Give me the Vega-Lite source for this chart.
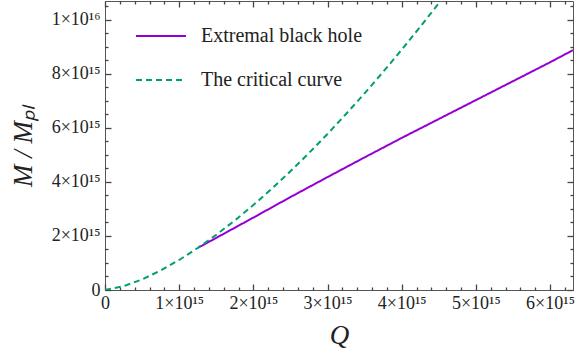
{
  "$schema": "https://vega.github.io/schema/vega-lite/v6.json",
  "autosize": "none",
  "width": 468,
  "height": 289,
  "padding": {"left": 105, "top": 1, "right": 8, "bottom": 72},
  "background": "white",
  "config": {
    "view": {"stroke": "#555", "strokeWidth": 1},
    "font": "Liberation Serif",
    "style": {
      "guide-label": {"font": "Liberation Serif"},
      "guide-title": {"font": "Liberation Serif"}
    },
    "axis": {
      "labelFont": "Liberation Serif",
      "titleFont": "Liberation Serif",
      "labelFontSize": 18,
      "labelColor": "#222",
      "titleColor": "#222",
      "tickColor": "#444",
      "tickWidth": 1.3,
      "domain": false,
      "grid": false,
      "zindex": 1
    },
    "legend": {"labelFont": "Liberation Serif", "labelLimit": 0}
  },
  "data": {
    "values": [
      {"series": "Extremal black hole", "Q": 1.257e15, "M": 1.567e15},
      {"series": "Extremal black hole", "Q": 1.5e15, "M": 1.93e15},
      {"series": "Extremal black hole", "Q": 2.0e15, "M": 2.68e15},
      {"series": "Extremal black hole", "Q": 2.5e15, "M": 3.44e15},
      {"series": "Extremal black hole", "Q": 3.0e15, "M": 4.18e15},
      {"series": "Extremal black hole", "Q": 3.5e15, "M": 4.91e15},
      {"series": "Extremal black hole", "Q": 4.0e15, "M": 5.63e15},
      {"series": "Extremal black hole", "Q": 4.5e15, "M": 6.33e15},
      {"series": "Extremal black hole", "Q": 5.0e15, "M": 7.03e15},
      {"series": "Extremal black hole", "Q": 5.5e15, "M": 7.73e15},
      {"series": "Extremal black hole", "Q": 6.0e15, "M": 8.43e15},
      {"series": "Extremal black hole", "Q": 6.31e15, "M": 8.88e15},
      {"series": "The critical curve", "Q": 0, "M": 0},
      {"series": "The critical curve", "Q": 0.25e15, "M": 0.139e15},
      {"series": "The critical curve", "Q": 0.5e15, "M": 0.393e15},
      {"series": "The critical curve", "Q": 0.75e15, "M": 0.722e15},
      {"series": "The critical curve", "Q": 1.0e15, "M": 1.112e15},
      {"series": "The critical curve", "Q": 1.25e15, "M": 1.554e15},
      {"series": "The critical curve", "Q": 1.5e15, "M": 2.043e15},
      {"series": "The critical curve", "Q": 1.75e15, "M": 2.574e15},
      {"series": "The critical curve", "Q": 2.0e15, "M": 3.145e15},
      {"series": "The critical curve", "Q": 2.25e15, "M": 3.753e15},
      {"series": "The critical curve", "Q": 2.5e15, "M": 4.396e15},
      {"series": "The critical curve", "Q": 2.75e15, "M": 5.071e15},
      {"series": "The critical curve", "Q": 3.0e15, "M": 5.778e15},
      {"series": "The critical curve", "Q": 3.25e15, "M": 6.515e15},
      {"series": "The critical curve", "Q": 3.5e15, "M": 7.281e15},
      {"series": "The critical curve", "Q": 3.75e15, "M": 8.075e15},
      {"series": "The critical curve", "Q": 4.0e15, "M": 8.896e15},
      {"series": "The critical curve", "Q": 4.25e15, "M": 9.743e15},
      {"series": "The critical curve", "Q": 4.5e15, "M": 10.615e15},
      {"series": "The critical curve", "Q": 4.6e15, "M": 10.971e15}
    ]
  },
  "layer": [
    {
      "mark": {"type": "line", "strokeWidth": 2, "clip": true},
      "encoding": {
        "x": {
          "field": "Q", "type": "quantitative",
          "scale": {"domain": [0, 6.31e15], "nice": false, "zero": false},
          "axis": {
            "orient": "bottom",
            "offset": -6,
            "values": [0, 1e15, 2e15, 3e15, 4e15, 5e15, 6e15],
            "labelFont": "Liberation Serif",
            "labelExpr": "datum.value == 0 ? '0' : round(datum.value / 1e15) + '×10¹⁵'",
            "tickSize": 6,
            "labelPadding": 4,
            "labelFlush": false,
            "labelOverlap": false,
            "title": "Q",
            "titleFont": "Liberation Serif",
            "titleFontSize": 27,
            "titleFontStyle": "italic",
            "titleFontWeight": "normal",
            "titlePadding": 10
          }
        },
        "y": {
          "field": "M", "type": "quantitative",
          "scale": {"domain": [0, 1.07e16], "nice": false, "zero": false},
          "axis": {
            "orient": "left",
            "offset": -6,
            "values": [0, 2e15, 4e15, 6e15, 8e15, 1e16],
            "labelFont": "Liberation Serif",
            "labelExpr": "datum.value == 0 ? '0' : (datum.value >= 1e16 ? round(datum.value / 1e16) + '×10¹⁶' : round(datum.value / 1e15) + '×10¹⁵')",
            "tickSize": 6,
            "labelPadding": 5,
            "labelFlush": false,
            "labelOverlap": false,
            "title": "M / Mₚₗ",
            "titleFont": "Liberation Serif",
            "titleFontSize": 27,
            "titleFontStyle": "italic",
            "titleFontWeight": "normal",
            "titlePadding": 14
          }
        },
        "color": {
          "field": "series", "type": "nominal",
          "scale": {"domain": ["Extremal black hole", "The critical curve"], "range": ["#9400D3", "#009E73"]},
          "legend": {
            "title": null,
            "orient": "none",
            "legendX": 30,
            "legendY": 9,
            "symbolType": "stroke",
            "symbolSize": 2500,
            "symbolStrokeWidth": 2,
            "labelFont": "Liberation Serif",
            "labelFontSize": 20,
            "labelColor": "#222",
            "labelOffset": 14,
            "rowPadding": 8
          }
        },
        "strokeDash": {
          "field": "series", "type": "nominal",
          "scale": {"domain": ["Extremal black hole", "The critical curve"], "range": [[1, 0], [6, 4]]},
          "legend": {
            "title": null,
            "orient": "none",
            "legendX": 30,
            "legendY": 9,
            "symbolType": "stroke",
            "symbolSize": 2500,
            "symbolStrokeWidth": 2,
            "labelFont": "Liberation Serif",
            "labelFontSize": 20,
            "labelColor": "#222",
            "labelOffset": 14,
            "rowPadding": 8
          }
        }
      }
    },
    {
      "mark": {"type": "line", "opacity": 0},
      "encoding": {
        "x": {
          "field": "Q", "type": "quantitative",
          "axis": {
            "orient": "bottom", "offset": -3,
            "values": [2e14, 4e14, 6e14, 8e14, 1.2e15, 1.4e15, 1.6e15, 1.8e15, 2.2e15, 2.4e15, 2.6e15, 2.8e15, 3.2e15, 3.4e15, 3.6e15, 3.8e15, 4.2e15, 4.4e15, 4.6e15, 4.8e15, 5.2e15, 5.4e15, 5.6e15, 5.8e15, 6.2e15],
            "labels": false, "tickSize": 3, "title": null
          }
        },
        "y": {
          "field": "M", "type": "quantitative",
          "axis": {
            "orient": "left", "offset": -3,
            "values": [5e14, 1e15, 1.5e15, 2.5e15, 3e15, 3.5e15, 4.5e15, 5e15, 5.5e15, 6.5e15, 7e15, 7.5e15, 8.5e15, 9e15, 9.5e15, 1.05e16],
            "labels": false, "tickSize": 3, "title": null
          }
        }
      }
    },
    {
      "mark": {"type": "line", "opacity": 0},
      "encoding": {
        "x": {
          "field": "Q", "type": "quantitative",
          "axis": {
            "orient": "top", "offset": -6,
            "values": [0, 1e15, 2e15, 3e15, 4e15, 5e15, 6e15],
            "labels": false, "tickSize": 6, "title": null
          }
        },
        "y": {
          "field": "M", "type": "quantitative",
          "axis": {
            "orient": "right", "offset": -6,
            "values": [0, 2e15, 4e15, 6e15, 8e15, 1e16],
            "labels": false, "tickSize": 6, "title": null
          }
        }
      }
    },
    {
      "mark": {"type": "line", "opacity": 0},
      "encoding": {
        "x": {
          "field": "Q", "type": "quantitative",
          "axis": {
            "orient": "top", "offset": -3,
            "values": [2e14, 4e14, 6e14, 8e14, 1.2e15, 1.4e15, 1.6e15, 1.8e15, 2.2e15, 2.4e15, 2.6e15, 2.8e15, 3.2e15, 3.4e15, 3.6e15, 3.8e15, 4.2e15, 4.4e15, 4.6e15, 4.8e15, 5.2e15, 5.4e15, 5.6e15, 5.8e15, 6.2e15],
            "labels": false, "tickSize": 3, "title": null
          }
        },
        "y": {
          "field": "M", "type": "quantitative",
          "axis": {
            "orient": "right", "offset": -3,
            "values": [5e14, 1e15, 1.5e15, 2.5e15, 3e15, 3.5e15, 4.5e15, 5e15, 5.5e15, 6.5e15, 7e15, 7.5e15, 8.5e15, 9e15, 9.5e15, 1.05e16],
            "labels": false, "tickSize": 3, "title": null
          }
        }
      }
    }
  ],
  "resolve": {"axis": {"x": "independent", "y": "independent"}}
}
